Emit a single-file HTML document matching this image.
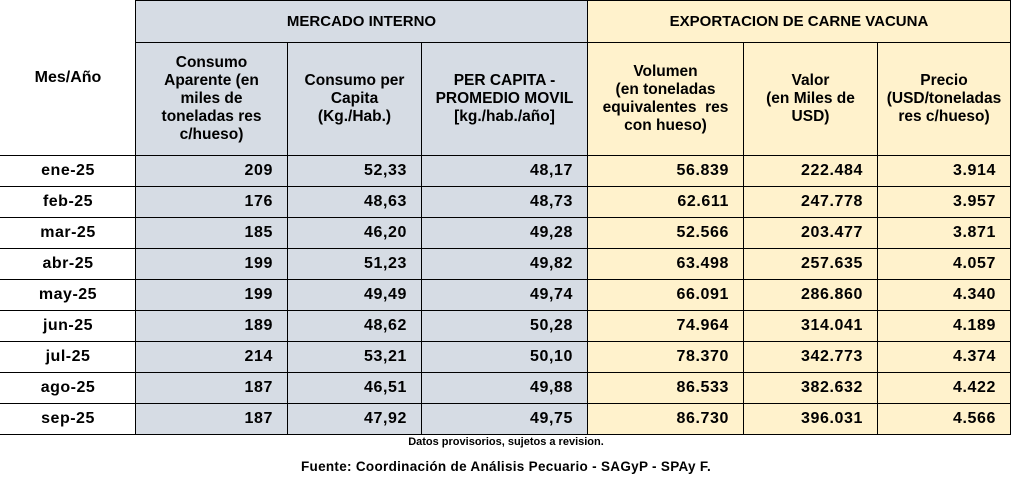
<!DOCTYPE html>
<html><head><meta charset="utf-8"><style>
body{margin:0;width:1012px;height:488px;background:#fff;font-family:"Liberation Sans",sans-serif;font-weight:bold;color:#000;position:relative;overflow:hidden}
.c{position:absolute;box-sizing:border-box;display:flex;align-items:center;justify-content:center;text-align:center;font-size:15px;line-height:18px}
.b{background:#d6dce4}.y{background:#fff2cc}
.r{justify-content:flex-end;padding-right:14px;font-size:16px;letter-spacing:0.6px}
.ft{position:absolute;left:0;width:1012px;text-align:center}
</style></head><body>
<div id="t"></div>
<script>
var X=[0,135,287,421,587,743,877,1010];
var h='';
function cell(x1,x2,y1,y2,cls,txt,st){h+='<div class="c '+cls+'" style="left:'+x1+'px;top:'+y1+'px;width:'+(x2-x1+1)+'px;height:'+(y2-y1+1)+'px;'+(st||'')+'">'+txt+'</div>';}
var bd='border:1px solid #000;';
cell(0,135,0,155,'','Mes/Año','border-bottom:1px solid #000;font-size:16px;');
cell(135,587,0,42,'b','MERCADO INTERNO',bd);
cell(587,1010,0,42,'y','EXPORTACION DE CARNE VACUNA',bd);
var hd=['Consumo Aparente (en miles de toneladas res c/hueso)','Consumo per Capita (Kg./Hab.)','PER CAPITA - PROMEDIO MOVIL [kg./hab./año]','Volumen<br>(en toneladas equivalentes&nbsp; res con hueso)','Valor<br>(en Miles de USD)','Precio (USD/toneladas res c/hueso)'];
var hw=[112,112,160,135,110,125];
for(var i=0;i<6;i++)cell(X[i+1],X[i+2],42,155,i<3?'b':'y','<span style="width:'+hw[i]+'px;font-size:15.5px">'+hd[i]+'</span>',bd);
var D=[['ene-25','209','52,33','48,17','56.839','222.484','3.914'],['feb-25','176','48,63','48,73','62.611','247.778','3.957'],['mar-25','185','46,20','49,28','52.566','203.477','3.871'],['abr-25','199','51,23','49,82','63.498','257.635','4.057'],['may-25','199','49,49','49,74','66.091','286.860','4.340'],['jun-25','189','48,62','50,28','74.964','314.041','4.189'],['jul-25','214','53,21','50,10','78.370','342.773','4.374'],['ago-25','187','46,51','49,88','86.533','382.632','4.422'],['sep-25','187','47,92','49,75','86.730','396.031','4.566']];
for(var r=0;r<9;r++){var y1=155+r*31,y2=y1+31;
cell(0,135,y1,y2,'',D[r][0],'border-bottom:1px solid #000;font-size:16px;letter-spacing:0.5px;');
for(var i=1;i<7;i++)cell(X[i],X[i+1],y1,y2,(i<4?'b':'y')+' r',D[r][i],bd);}
document.getElementById('t').innerHTML=h;
</script>
<div class="ft" style="top:436px;font-size:11px">Datos provisorios, sujetos a revision.</div>
<div class="ft" style="top:459px;font-size:13.5px;letter-spacing:0.3px">Fuente: Coordinación de Análisis Pecuario - SAGyP - SPAy F.</div>
</body></html>
